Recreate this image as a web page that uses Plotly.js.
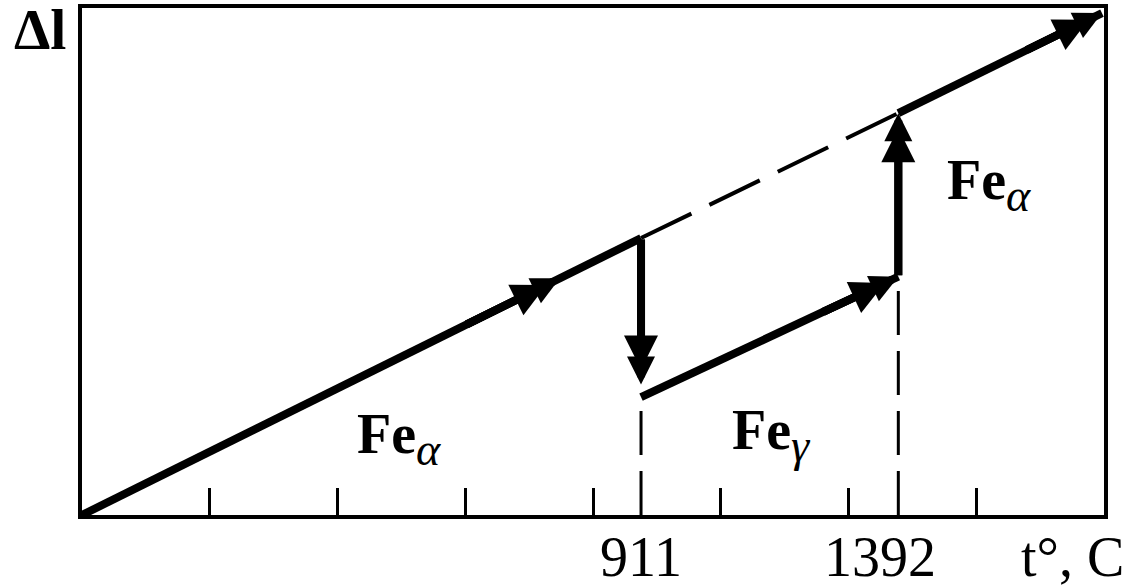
<!DOCTYPE html>
<html><head><meta charset="utf-8">
<script src="https://cdn.plot.ly/plotly-3.0.1.min.js"></script>
<style>html,body{margin:0;padding:0;background:#fff;}#chart{width:1134px;height:586px;}</style>
</head><body><div id="chart"></div>
<script>
// Schematic dilatometric curve of iron (arbitrary units: 8 equal tick intervals on x, 4 units on y)
const tickPositions = [1, 2, 3, 4, 5, 6, 7];
const tAlphaGamma = 4.376;   // position of 911 °C
const tGammaDelta = 6.39;    // position of 1392 °C
const tickLabels = ['911', '1392'];
const axisLabel = 't°, C';
const yLabel = 'Δl';

const alphaX = [0, 4.376];          // Fe alpha heating
const alphaY = [0, 2.185];
const gammaX = [4.376, 6.39];       // Fe gamma heating
const gammaY = [0.93, 1.88];
const dashedX = [4.376, 6.39];      // extrapolated alpha line
const dashedY = [2.185, 3.17];
const upperX = [6.39, 7.984];       // Fe alpha (delta) heating
const upperY = [3.17, 3.96];
const dropY = [2.185, 1.03];        // contraction at 911
const riseY = [1.88, 3.17];         // expansion at 1392
const midArrowX = [3.0, 3.74];      // arrow on first segment
const labelBase = ['Fe', 'Fe', 'Fe'];
const labelSub = ['α', 'γ', 'α'];
const labelX = [2.14, 5.07, 6.755];
const labelY = [0.6, 0.63, 2.6];

const X_RANGE = [0, 8], Y_RANGE = [0, 4];
const M = {l: 82, r: 30, t: 8, b: 71};
const W = 1134, H = 586;
const pxX = (W - M.l - M.r) / (X_RANGE[1] - X_RANGE[0]);
const pxY = (H - M.t - M.b) / (Y_RANGE[1] - Y_RANGE[0]);

const slopeA = alphaY[1] / alphaX[1];
const gSlope = (gammaY[1] - gammaY[0]) / (gammaX[1] - gammaX[0]);
const uSlope = (upperY[1] - upperY[0]) / (upperX[1] - upperX[0]);

const solid = {color: '#000', width: 8};
const dashed = {color: '#000', width: 4, dash: '56px,20px'};
const vdash = {color: '#000', width: 3, dash: '44px,16px'};
const traces = [
  {x: alphaX, y: alphaY, mode: 'lines', line: solid},
  {x: gammaX, y: gammaY, mode: 'lines', line: solid},
  {x: upperX, y: upperY, mode: 'lines', line: solid},
  {x: dashedX, y: dashedY, mode: 'lines', line: dashed},
  {x: [tAlphaGamma, tAlphaGamma], y: [0, gammaY[0]], mode: 'lines', line: vdash},
  {x: [tGammaDelta, tGammaDelta], y: [0, gammaY[1]], mode: 'lines', line: vdash}
].map(t => Object.assign(t, {type: 'scatter', hoverinfo: 'skip', showlegend: false}));

function head(x0, y0, x1, y1, w, s) {
  return {x: x1, y: y1, ax: x0, ay: y0, xref: 'x', yref: 'y', axref: 'x', ayref: 'y',
    text: '', showarrow: true, arrowhead: 2, arrowsize: s, arrowwidth: w, arrowcolor: '#000'};
}
const annotations = [];
// arrow with an elongated, barbed head: two heads, the second set back along the shaft
function arrow(x0, y0, x1, y1) {
  const dxp = (x1 - x0) * pxX, dyp = (y1 - y0) * pxY;
  const n = Math.hypot(dxp, dyp);
  const back = 15;
  const bx = x1 - dxp / n * back / pxX, by = y1 - dyp / n * back / pxY;
  annotations.push(head(x0, y0, bx, by, 8, 0.85));
  annotations.push(head(x0, y0, x1, y1, 8, 0.7));
}
arrow(midArrowX[0], slopeA * midArrowX[0], midArrowX[1], slopeA * midArrowX[1]);
arrow(gammaX[1] - 0.6, gammaY[1] - 0.6 * gSlope, gammaX[1], gammaY[1]);
arrow(upperX[1] - 0.6, upperY[1] - 0.6 * uSlope, upperX[1], upperY[1]);
arrow(tAlphaGamma, dropY[0], tAlphaGamma, dropY[1]);
arrow(tGammaDelta, riseY[0], tGammaDelta, riseY[1]);

const serif = 'Liberation Serif, Times New Roman, serif';
labelBase.forEach((t, i) => annotations.push({x: labelX[i], y: labelY[i], xref: 'x', yref: 'y',
  text: '<b>' + t + '</b><sub><span style="font-size:46px"><i>' + labelSub[i] + '</i></span></sub>',
  showarrow: false, xanchor: 'left', yanchor: 'middle',
  font: {family: serif, size: 56, color: '#000'}}));
annotations.push({x: tAlphaGamma, y: -0.082, xref: 'x', yref: 'paper', text: tickLabels[0],
  showarrow: false, xanchor: 'center', yanchor: 'middle', font: {family: serif, size: 56, color: '#000'}});
annotations.push({x: tGammaDelta, y: -0.082, xref: 'x', yref: 'paper', xshift: -18, text: tickLabels[1],
  showarrow: false, xanchor: 'center', yanchor: 'middle', font: {family: serif, size: 56, color: '#000'}});
annotations.push({x: 1.022, y: -0.082, xref: 'paper', yref: 'paper', text: axisLabel,
  showarrow: false, xanchor: 'right', yanchor: 'middle', font: {family: serif, size: 56, color: '#000'}});
annotations.push({x: -0.0137, y: 0.958, xref: 'paper', yref: 'paper', text: '<b>' + yLabel + '</b>',
  showarrow: false, xanchor: 'right', yanchor: 'middle', font: {family: serif, size: 58, color: '#000'}});

const layout = {
  width: W, height: H,
  margin: M,
  paper_bgcolor: '#fff', plot_bgcolor: '#fff',
  xaxis: {range: X_RANGE, showline: true, mirror: true, linewidth: 4, linecolor: '#000',
    ticks: 'inside', tickvals: tickPositions, ticklen: 27, tickwidth: 3, tickcolor: '#000',
    showticklabels: false, showgrid: false, zeroline: false, fixedrange: true},
  yaxis: {range: Y_RANGE, showline: true, mirror: true, linewidth: 4, linecolor: '#000',
    ticks: '', showticklabels: false, showgrid: false, zeroline: false, fixedrange: true},
  annotations: annotations,
  showlegend: false
};
Plotly.newPlot('chart', traces, layout, {displayModeBar: false, staticPlot: true});
</script></body></html>
